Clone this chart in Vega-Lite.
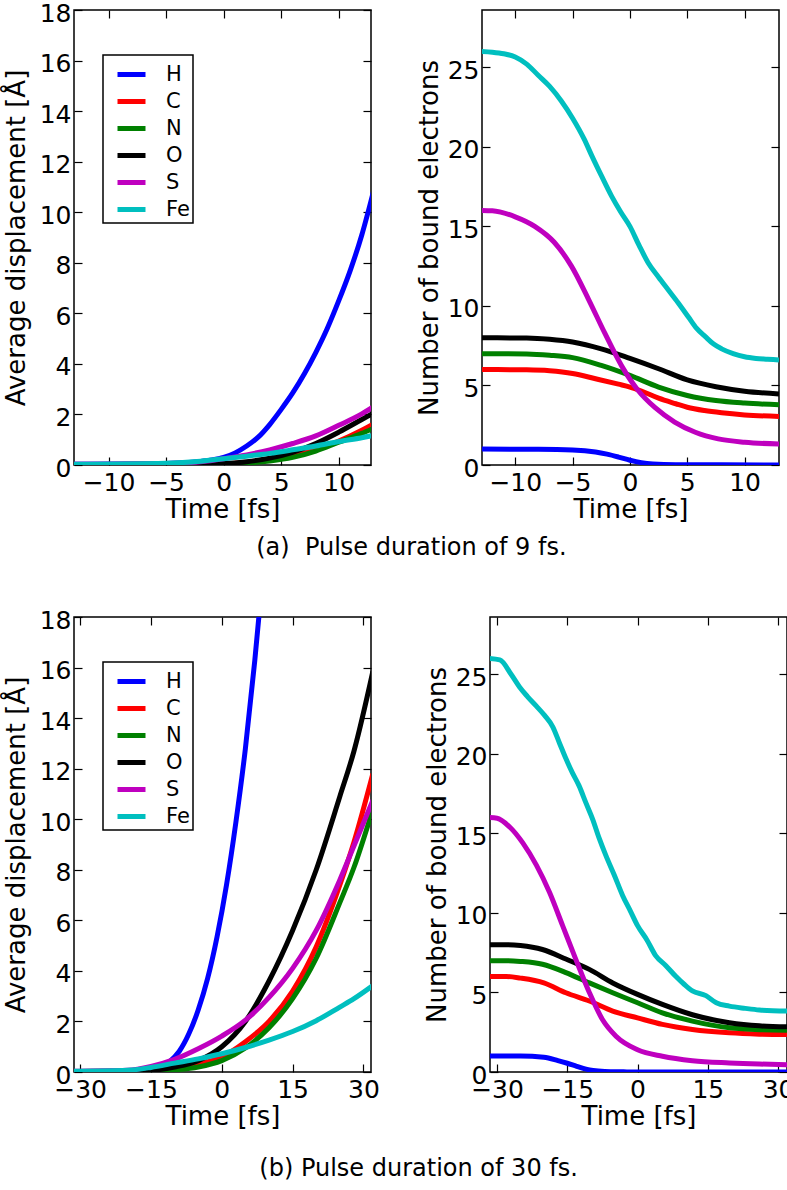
{
  "$schema": "https://vega.github.io/schema/vega-lite/v6.json",
  "background": "white",
  "padding": {"left": 2, "top": 0, "right": 4, "bottom": 4},
  "config": {
    "view": {"stroke": "black", "strokeWidth": 1.5},
    "axis": {"domain": false, "grid": false, "labelFont": "DejaVu Sans", "labelFontSize": 25, "labelColor": "black", "titleFont": "DejaVu Sans", "titleFontSize": 26, "titleFontWeight": "normal", "titleColor": "black", "tickColor": "black", "tickSize": -8, "tickWidth": 1.2, "labelFlush": false, "labelOverlap": false},
    "axisX": {"labelPadding": 13, "titlePadding": 1},
    "axisY": {"labelPadding": 11, "titlePadding": 10, "labelOffset": 3},
    "legend": {"strokeWidth": 1.5},
    "title": {"font": "DejaVu Sans", "fontSize": 24, "fontWeight": "normal", "color": "black"}
  },
  "datasets": {
    "a_disp": [
      {"s":"H","t":-13,"v":0.03},{"s":"H","t":-8,"v":0.04},{"s":"H","t":-5,"v":0.06},{"s":"H","t":-3,"v":0.1},{"s":"H","t":-2,"v":0.14},{"s":"H","t":-1,"v":0.2},{"s":"H","t":0,"v":0.3},{"s":"H","t":1,"v":0.48},{"s":"H","t":2,"v":0.75},{"s":"H","t":3,"v":1.1},{"s":"H","t":4,"v":1.6},{"s":"H","t":5,"v":2.2},{"s":"H","t":6,"v":2.85},{"s":"H","t":7,"v":3.6},{"s":"H","t":8,"v":4.45},{"s":"H","t":9,"v":5.4},{"s":"H","t":10,"v":6.5},{"s":"H","t":11,"v":7.7},{"s":"H","t":12,"v":9.1},{"s":"H","t":13,"v":10.8},
      {"s":"C","t":-13,"v":0.02},{"s":"C","t":-5,"v":0.03},{"s":"C","t":0,"v":0.05},{"s":"C","t":2,"v":0.1},{"s":"C","t":4,"v":0.2},{"s":"C","t":6,"v":0.36},{"s":"C","t":8,"v":0.6},{"s":"C","t":10,"v":0.95},{"s":"C","t":12,"v":1.38},{"s":"C","t":13,"v":1.62},
      {"s":"N","t":-13,"v":0.02},{"s":"N","t":-5,"v":0.03},{"s":"N","t":0,"v":0.04},{"s":"N","t":2,"v":0.08},{"s":"N","t":4,"v":0.16},{"s":"N","t":6,"v":0.3},{"s":"N","t":8,"v":0.55},{"s":"N","t":10,"v":0.9},{"s":"N","t":12,"v":1.25},{"s":"N","t":13,"v":1.45},
      {"s":"O","t":-13,"v":0.02},{"s":"O","t":-5,"v":0.03},{"s":"O","t":0,"v":0.06},{"s":"O","t":2,"v":0.13},{"s":"O","t":4,"v":0.27},{"s":"O","t":6,"v":0.5},{"s":"O","t":8,"v":0.85},{"s":"O","t":10,"v":1.3},{"s":"O","t":12,"v":1.8},{"s":"O","t":13,"v":2.05},
      {"s":"S","t":-13,"v":0.03},{"s":"S","t":-5,"v":0.06},{"s":"S","t":-2,"v":0.13},{"s":"S","t":0,"v":0.25},{"s":"S","t":2,"v":0.4},{"s":"S","t":4,"v":0.6},{"s":"S","t":6,"v":0.85},{"s":"S","t":8,"v":1.15},{"s":"S","t":10,"v":1.57},{"s":"S","t":12,"v":2.02},{"s":"S","t":13,"v":2.3},
      {"s":"Fe","t":-13,"v":0.03},{"s":"Fe","t":-5,"v":0.07},{"s":"Fe","t":-2,"v":0.15},{"s":"Fe","t":0,"v":0.25},{"s":"Fe","t":2,"v":0.35},{"s":"Fe","t":4,"v":0.46},{"s":"Fe","t":6,"v":0.6},{"s":"Fe","t":8,"v":0.75},{"s":"Fe","t":10,"v":0.93},{"s":"Fe","t":12,"v":1.08},{"s":"Fe","t":13,"v":1.17}
    ],
    "a_elec": [
      {"s":"H","t":-13,"v":1},{"s":"H","t":-8,"v":0.99},{"s":"H","t":-5,"v":0.95},{"s":"H","t":-3,"v":0.82},{"s":"H","t":-2,"v":0.68},{"s":"H","t":-1,"v":0.5},{"s":"H","t":0,"v":0.3},{"s":"H","t":1,"v":0.15},{"s":"H","t":2,"v":0.07},{"s":"H","t":4,"v":0.02},{"s":"H","t":8,"v":0.01},{"s":"H","t":13,"v":0},
      {"s":"C","t":-13,"v":6},{"s":"C","t":-9,"v":5.98},{"s":"C","t":-7,"v":5.92},{"s":"C","t":-5,"v":5.75},{"s":"C","t":-3,"v":5.42},{"s":"C","t":-1,"v":5.08},{"s":"C","t":0,"v":4.9},{"s":"C","t":1,"v":4.65},{"s":"C","t":2.5,"v":4.2},{"s":"C","t":4,"v":3.85},{"s":"C","t":5,"v":3.63},{"s":"C","t":6.5,"v":3.42},{"s":"C","t":8,"v":3.28},{"s":"C","t":10,"v":3.15},{"s":"C","t":13,"v":3.05},
      {"s":"N","t":-13,"v":7},{"s":"N","t":-9,"v":6.98},{"s":"N","t":-7,"v":6.9},{"s":"N","t":-5,"v":6.75},{"s":"N","t":-2.5,"v":6.26},{"s":"N","t":0,"v":5.63},{"s":"N","t":2.5,"v":4.9},{"s":"N","t":5,"v":4.37},{"s":"N","t":7.5,"v":4.05},{"s":"N","t":10,"v":3.89},{"s":"N","t":13,"v":3.78},
      {"s":"O","t":-13,"v":8},{"s":"O","t":-9,"v":7.98},{"s":"O","t":-7,"v":7.9},{"s":"O","t":-5,"v":7.73},{"s":"O","t":-2.5,"v":7.3},{"s":"O","t":0,"v":6.7},{"s":"O","t":2.5,"v":6.05},{"s":"O","t":5,"v":5.35},{"s":"O","t":7.5,"v":4.92},{"s":"O","t":10,"v":4.64},{"s":"O","t":13,"v":4.47},
      {"s":"S","t":-13,"v":16},{"s":"S","t":-12,"v":15.98},{"s":"S","t":-10,"v":15.6},{"s":"S","t":-8.3,"v":15.0},{"s":"S","t":-6.6,"v":14.0},{"s":"S","t":-5.1,"v":12.5},{"s":"S","t":-3.6,"v":10.4},{"s":"S","t":-2.2,"v":8.3},{"s":"S","t":-0.7,"v":6.2},{"s":"S","t":0.7,"v":4.7},{"s":"S","t":2.2,"v":3.6},{"s":"S","t":3.9,"v":2.7},{"s":"S","t":5.7,"v":2.06},{"s":"S","t":7.7,"v":1.64},{"s":"S","t":10,"v":1.43},{"s":"S","t":13,"v":1.32},
      {"s":"Fe","t":-13,"v":26},{"s":"Fe","t":-12,"v":25.95},{"s":"Fe","t":-11,"v":25.85},{"s":"Fe","t":-10,"v":25.65},{"s":"Fe","t":-9,"v":25.2},{"s":"Fe","t":-8,"v":24.5},{"s":"Fe","t":-7,"v":23.8},{"s":"Fe","t":-6,"v":22.9},{"s":"Fe","t":-5,"v":21.8},{"s":"Fe","t":-4,"v":20.5},{"s":"Fe","t":-3.3,"v":19.4},{"s":"Fe","t":-2.5,"v":18.2},{"s":"Fe","t":-1.6,"v":16.9},{"s":"Fe","t":-0.8,"v":15.9},{"s":"Fe","t":0,"v":15.0},{"s":"Fe","t":0.8,"v":13.8},{"s":"Fe","t":1.6,"v":12.7},{"s":"Fe","t":2.5,"v":11.8},{"s":"Fe","t":3.35,"v":11.0},{"s":"Fe","t":4.2,"v":10.2},{"s":"Fe","t":5.1,"v":9.3},{"s":"Fe","t":5.8,"v":8.6},{"s":"Fe","t":6.6,"v":8.05},{"s":"Fe","t":7.3,"v":7.6},{"s":"Fe","t":8,"v":7.3},{"s":"Fe","t":9,"v":7.0},{"s":"Fe","t":10,"v":6.8},{"s":"Fe","t":11,"v":6.7},{"s":"Fe","t":12,"v":6.65},{"s":"Fe","t":13,"v":6.6}
    ],
    "b_disp": [
      {"s":"H","t":-32,"v":0.02},{"s":"H","t":-20,"v":0.03},{"s":"H","t":-17,"v":0.05},{"s":"H","t":-15,"v":0.1},{"s":"H","t":-13,"v":0.2},{"s":"H","t":-11,"v":0.42},{"s":"H","t":-9,"v":0.82},{"s":"H","t":-7,"v":1.5},{"s":"H","t":-5,"v":2.45},{"s":"H","t":-3,"v":3.7},{"s":"H","t":-1,"v":5.35},{"s":"H","t":1,"v":7.4},{"s":"H","t":3,"v":9.9},{"s":"H","t":5,"v":12.8},{"s":"H","t":7,"v":16.3},{"s":"H","t":9,"v":20.3},
      {"s":"C","t":-32,"v":0.02},{"s":"C","t":-20,"v":0.03},{"s":"C","t":-15,"v":0.06},{"s":"C","t":-10,"v":0.15},{"s":"C","t":-5,"v":0.3},{"s":"C","t":0,"v":0.6},{"s":"C","t":5,"v":1.2},{"s":"C","t":10,"v":2.0},{"s":"C","t":15,"v":3.2},{"s":"C","t":20,"v":4.95},{"s":"C","t":25,"v":7.4},{"s":"C","t":28,"v":9.1},{"s":"C","t":32,"v":11.8},
      {"s":"N","t":-32,"v":0.02},{"s":"N","t":-15,"v":0.03},{"s":"N","t":-10,"v":0.08},{"s":"N","t":-5,"v":0.2},{"s":"N","t":0,"v":0.45},{"s":"N","t":5,"v":0.95},{"s":"N","t":10,"v":1.75},{"s":"N","t":15,"v":2.9},{"s":"N","t":20,"v":4.5},{"s":"N","t":25,"v":6.7},{"s":"N","t":28,"v":8.1},{"s":"N","t":32,"v":10.4},
      {"s":"O","t":-32,"v":0.02},{"s":"O","t":-20,"v":0.03},{"s":"O","t":-15,"v":0.06},{"s":"O","t":-10,"v":0.2},{"s":"O","t":-5,"v":0.45},{"s":"O","t":0,"v":1.0},{"s":"O","t":5,"v":2.0},{"s":"O","t":10,"v":3.6},{"s":"O","t":15,"v":5.6},{"s":"O","t":20,"v":8.0},{"s":"O","t":25,"v":10.9},{"s":"O","t":28,"v":12.7},{"s":"O","t":32,"v":15.85},
      {"s":"S","t":-32,"v":0.03},{"s":"S","t":-20,"v":0.07},{"s":"S","t":-15,"v":0.22},{"s":"S","t":-10,"v":0.5},{"s":"S","t":-5,"v":0.92},{"s":"S","t":0,"v":1.42},{"s":"S","t":5,"v":2.05},{"s":"S","t":10,"v":2.95},{"s":"S","t":15,"v":4.1},{"s":"S","t":20,"v":5.6},{"s":"S","t":25,"v":7.6},{"s":"S","t":28,"v":8.95},{"s":"S","t":32,"v":10.75},
      {"s":"Fe","t":-32,"v":0.03},{"s":"Fe","t":-20,"v":0.07},{"s":"Fe","t":-15,"v":0.18},{"s":"Fe","t":-10,"v":0.35},{"s":"Fe","t":-5,"v":0.52},{"s":"Fe","t":0,"v":0.72},{"s":"Fe","t":5,"v":0.97},{"s":"Fe","t":10,"v":1.26},{"s":"Fe","t":15,"v":1.6},{"s":"Fe","t":20,"v":2.03},{"s":"Fe","t":25,"v":2.57},{"s":"Fe","t":28,"v":2.9},{"s":"Fe","t":32,"v":3.42}
    ],
    "b_elec": [
      {"s":"H","t":-32,"v":1},{"s":"H","t":-25,"v":1},{"s":"H","t":-20,"v":0.93},{"s":"H","t":-17,"v":0.72},{"s":"H","t":-15,"v":0.55},{"s":"H","t":-13,"v":0.36},{"s":"H","t":-11,"v":0.18},{"s":"H","t":-9.5,"v":0.09},{"s":"H","t":-7,"v":0.03},{"s":"H","t":-3,"v":0.01},{"s":"H","t":0,"v":0},{"s":"H","t":32,"v":0},
      {"s":"C","t":-32,"v":6},{"s":"C","t":-28,"v":6},{"s":"C","t":-25,"v":5.9},{"s":"C","t":-20,"v":5.6},{"s":"C","t":-15.3,"v":4.98},{"s":"C","t":-10.3,"v":4.46},{"s":"C","t":-5.3,"v":3.83},{"s":"C","t":0,"v":3.4},{"s":"C","t":5.3,"v":2.99},{"s":"C","t":11.7,"v":2.67},{"s":"C","t":19.6,"v":2.46},{"s":"C","t":26,"v":2.38},{"s":"C","t":32,"v":2.35},
      {"s":"N","t":-32,"v":7},{"s":"N","t":-28,"v":7},{"s":"N","t":-25,"v":6.95},{"s":"N","t":-20.3,"v":6.77},{"s":"N","t":-15.3,"v":6.25},{"s":"N","t":-10.3,"v":5.6},{"s":"N","t":-5.3,"v":4.98},{"s":"N","t":0,"v":4.35},{"s":"N","t":5.3,"v":3.72},{"s":"N","t":11.7,"v":3.2},{"s":"N","t":19.6,"v":2.78},{"s":"N","t":26,"v":2.66},{"s":"N","t":32,"v":2.63},
      {"s":"O","t":-32,"v":8},{"s":"O","t":-28,"v":8},{"s":"O","t":-25,"v":7.95},{"s":"O","t":-20.3,"v":7.7},{"s":"O","t":-15.3,"v":7.1},{"s":"O","t":-10.3,"v":6.45},{"s":"O","t":-5.3,"v":5.6},{"s":"O","t":0,"v":4.88},{"s":"O","t":5.3,"v":4.25},{"s":"O","t":11.7,"v":3.6},{"s":"O","t":19.6,"v":3.1},{"s":"O","t":26,"v":2.9},{"s":"O","t":32,"v":2.84},
      {"s":"S","t":-32,"v":16},{"s":"S","t":-30,"v":15.95},{"s":"S","t":-27.3,"v":15.4},{"s":"S","t":-24.5,"v":14.4},{"s":"S","t":-21.6,"v":13.0},{"s":"S","t":-18.8,"v":11.3},{"s":"S","t":-16,"v":9.2},{"s":"S","t":-13.2,"v":7.1},{"s":"S","t":-10.3,"v":5.0},{"s":"S","t":-7.5,"v":3.3},{"s":"S","t":-4.6,"v":2.25},{"s":"S","t":0,"v":1.4},{"s":"S","t":5.3,"v":0.99},{"s":"S","t":11.7,"v":0.71},{"s":"S","t":19.6,"v":0.57},{"s":"S","t":26,"v":0.5},{"s":"S","t":32,"v":0.46},
      {"s":"Fe","t":-32,"v":26},{"s":"Fe","t":-29.4,"v":25.9},{"s":"Fe","t":-27,"v":25.0},{"s":"Fe","t":-25.2,"v":24.2},{"s":"Fe","t":-23.5,"v":23.6},{"s":"Fe","t":-21.6,"v":23.0},{"s":"Fe","t":-19.8,"v":22.4},{"s":"Fe","t":-18.1,"v":21.7},{"s":"Fe","t":-16.7,"v":20.7},{"s":"Fe","t":-15.3,"v":19.7},{"s":"Fe","t":-13.9,"v":18.8},{"s":"Fe","t":-12.5,"v":18.0},{"s":"Fe","t":-11,"v":16.9},{"s":"Fe","t":-9.6,"v":15.9},{"s":"Fe","t":-8.2,"v":14.7},{"s":"Fe","t":-6.75,"v":13.6},{"s":"Fe","t":-5,"v":12.4},{"s":"Fe","t":-3.2,"v":11.1},{"s":"Fe","t":-1.5,"v":10.1},{"s":"Fe","t":0,"v":9.2},{"s":"Fe","t":2,"v":8.3},{"s":"Fe","t":3.9,"v":7.3},{"s":"Fe","t":6,"v":6.7},{"s":"Fe","t":8.2,"v":6.0},{"s":"Fe","t":10,"v":5.5},{"s":"Fe","t":11.7,"v":5.1},{"s":"Fe","t":14.6,"v":4.8},{"s":"Fe","t":16.8,"v":4.35},{"s":"Fe","t":19.6,"v":4.14},{"s":"Fe","t":23,"v":4.0},{"s":"Fe","t":26,"v":3.9},{"s":"Fe","t":32,"v":3.83}
    ]
  },
  "spacing": 47,
  "resolve": {"legend": {"color": "independent"}},
  "vconcat": [
    {
      "title": {"text": "(a)\u00a0 Pulse duration of 9 fs.", "orient": "bottom", "anchor": "middle", "offset": 13, "dx": 20},
      "spacing": 42,
      "resolve": {"legend": {"color": "independent"}},
      "hconcat": [
        {
          "width": 297, "height": 455,
          "data": {"name": "a_disp"},
          "resolve": {"axis": {"x": "independent", "y": "independent"}},
          "layer": [
            {
              "mark": {"type": "line", "strokeWidth": 5, "clip": true, "interpolate": "monotone"},
              "encoding": {
                "x": {"field": "t", "type": "quantitative", "scale": {"domain": [-13, 12.8], "nice": false, "zero": false}, "axis": {"values": [-10, -5, 0, 5, 10], "title": "Time [fs]"}},
                "y": {"field": "v", "type": "quantitative", "scale": {"domain": [0, 18], "nice": false}, "axis": {"values": [0, 2, 4, 6, 8, 10, 12, 14, 16, 18], "title": "Average displacement [Å]"}},
                "color": {"field": "s", "type": "nominal", "sort": null, "scale": {"domain": ["H", "C", "N", "O", "S", "Fe"], "range": ["#0000ff", "#ff0000", "#008000", "#000000", "#bf00bf", "#00bfbf"]},
                  "legend": {"orient": "none", "legendX": 29, "legendY": 45, "title": null, "symbolType": "stroke", "symbolSize": 784, "symbolStrokeWidth": 5, "symbolOffset": 9, "labelFont": "DejaVu Sans", "labelFontSize": 21, "labelColor": "black", "labelOffset": 18, "strokeColor": "black", "fillColor": "white", "padding": 3, "rowPadding": -6.8, "cornerRadius": 0}}
              }
            },
            {
              "mark": {"type": "point", "opacity": 0, "size": 0, "clip": true},
              "encoding": {
                "x": {"field": "t", "type": "quantitative", "scale": {"domain": [-13, 12.8], "nice": false, "zero": false}, "axis": {"orient": "top", "values": [-10, -5, 0, 5, 10], "labels": false, "title": null}},
                "y": {"field": "v", "type": "quantitative", "scale": {"domain": [0, 18], "nice": false}, "axis": {"orient": "right", "values": [0, 2, 4, 6, 8, 10, 12, 14, 16, 18], "labels": false, "title": null}}
              }
            }
          ]
        },
        {
          "width": 297, "height": 455,
          "data": {"name": "a_elec"},
          "resolve": {"axis": {"x": "independent", "y": "independent"}},
          "layer": [
            {
              "mark": {"type": "line", "strokeWidth": 5, "clip": true, "interpolate": "monotone"},
              "encoding": {
                "x": {"field": "t", "type": "quantitative", "scale": {"domain": [-12.9, 13], "nice": false, "zero": false}, "axis": {"values": [-10, -5, 0, 5, 10], "title": "Time [fs]"}},
                "y": {"field": "v", "type": "quantitative", "scale": {"domain": [0, 28.6], "nice": false}, "axis": {"values": [0, 5, 10, 15, 20, 25], "title": "Number of bound electrons", "titlePadding": 5}},
                "color": {"field": "s", "type": "nominal", "sort": null, "scale": {"domain": ["H", "C", "N", "O", "S", "Fe"], "range": ["#0000ff", "#ff0000", "#008000", "#000000", "#bf00bf", "#00bfbf"]}, "legend": null}
              }
            },
            {
              "mark": {"type": "point", "opacity": 0, "size": 0, "clip": true},
              "encoding": {
                "x": {"field": "t", "type": "quantitative", "scale": {"domain": [-12.9, 13], "nice": false, "zero": false}, "axis": {"orient": "top", "values": [-10, -5, 0, 5, 10], "labels": false, "title": null}},
                "y": {"field": "v", "type": "quantitative", "scale": {"domain": [0, 28.6], "nice": false}, "axis": {"orient": "right", "values": [0, 5, 10, 15, 20, 25], "labels": false, "title": null}}
              }
            }
          ]
        }
      ]
    },
    {
      "title": {"text": "(b) Pulse duration of 30 fs.", "orient": "bottom", "anchor": "middle", "offset": 27, "dx": 20},
      "spacing": 42,
      "resolve": {"legend": {"color": "independent"}},
      "hconcat": [
        {
          "width": 297, "height": 455,
          "data": {"name": "b_disp"},
          "resolve": {"axis": {"x": "independent", "y": "independent"}},
          "layer": [
            {
              "mark": {"type": "line", "strokeWidth": 5, "clip": true, "interpolate": "monotone"},
              "encoding": {
                "x": {"field": "t", "type": "quantitative", "scale": {"domain": [-31.3, 31.6], "nice": false, "zero": false}, "axis": {"values": [-30, -15, 0, 15, 30], "title": "Time [fs]"}},
                "y": {"field": "v", "type": "quantitative", "scale": {"domain": [0, 18], "nice": false}, "axis": {"values": [0, 2, 4, 6, 8, 10, 12, 14, 16, 18], "title": "Average displacement [Å]"}},
                "color": {"field": "s", "type": "nominal", "sort": null, "scale": {"domain": ["H", "C", "N", "O", "S", "Fe"], "range": ["#0000ff", "#ff0000", "#008000", "#000000", "#bf00bf", "#00bfbf"]},
                  "legend": {"orient": "none", "legendX": 29, "legendY": 45, "title": null, "symbolType": "stroke", "symbolSize": 784, "symbolStrokeWidth": 5, "symbolOffset": 9, "labelFont": "DejaVu Sans", "labelFontSize": 21, "labelColor": "black", "labelOffset": 18, "strokeColor": "black", "fillColor": "white", "padding": 3, "rowPadding": -6.8, "cornerRadius": 0}}
              }
            },
            {
              "mark": {"type": "point", "opacity": 0, "size": 0, "clip": true},
              "encoding": {
                "x": {"field": "t", "type": "quantitative", "scale": {"domain": [-31.3, 31.6], "nice": false, "zero": false}, "axis": {"orient": "top", "values": [-30, -15, 0, 15, 30], "labels": false, "title": null}},
                "y": {"field": "v", "type": "quantitative", "scale": {"domain": [0, 18], "nice": false}, "axis": {"orient": "right", "values": [0, 2, 4, 6, 8, 10, 12, 14, 16, 18], "labels": false, "title": null}}
              }
            }
          ]
        },
        {
          "width": 297, "height": 455,
          "data": {"name": "b_elec"},
          "resolve": {"axis": {"x": "independent", "y": "independent"}},
          "layer": [
            {
              "mark": {"type": "line", "strokeWidth": 5, "clip": true, "interpolate": "monotone"},
              "encoding": {
                "x": {"field": "t", "type": "quantitative", "scale": {"domain": [-31.5, 31.9], "nice": false, "zero": false}, "axis": {"values": [-30, -15, 0, 15, 30], "title": "Time [fs]"}},
                "y": {"field": "v", "type": "quantitative", "scale": {"domain": [0, 28.6], "nice": false}, "axis": {"values": [0, 5, 10, 15, 20, 25], "title": "Number of bound electrons", "titlePadding": 5}},
                "color": {"field": "s", "type": "nominal", "sort": null, "scale": {"domain": ["H", "C", "N", "O", "S", "Fe"], "range": ["#0000ff", "#ff0000", "#008000", "#000000", "#bf00bf", "#00bfbf"]}, "legend": null}
              }
            },
            {
              "mark": {"type": "point", "opacity": 0, "size": 0, "clip": true},
              "encoding": {
                "x": {"field": "t", "type": "quantitative", "scale": {"domain": [-31.5, 31.9], "nice": false, "zero": false}, "axis": {"orient": "top", "values": [-30, -15, 0, 15, 30], "labels": false, "title": null}},
                "y": {"field": "v", "type": "quantitative", "scale": {"domain": [0, 28.6], "nice": false}, "axis": {"orient": "right", "values": [0, 5, 10, 15, 20, 25], "labels": false, "title": null}}
              }
            }
          ]
        }
      ]
    }
  ]
}
